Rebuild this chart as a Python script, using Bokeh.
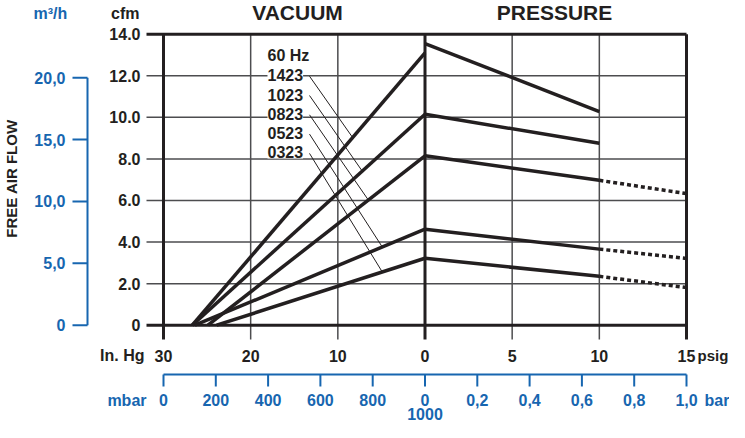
from bokeh.plotting import figure
from bokeh.models import Range1d, LabelSet, ColumnDataSource
from bokeh.embed import file_html
from bokeh.resources import INLINE
from bokeh.core.properties import value

# ---------------- data ----------------
models = ["1423", "1023", "0823", "0523", "0323"]
vac_zero_flow_inhg = [26.7, 26.7, 24.9, 26.4, 23.9]   # vacuum (inHg) where flow reaches 0
vac_flow_at_0 = [13.1, 10.15, 8.15, 4.62, 3.22]       # cfm at 0 inHg
press_psig = [0, 10, 15]
press_flow_0 = [13.55, 10.15, 8.15, 4.62, 3.22]       # cfm at 0 psig
press_flow_10 = [10.28, 8.75, 6.97, 3.66, 2.35]       # cfm at 10 psig
press_flow_15 = [None, None, 6.33, 3.21, 1.81]        # cfm at 15 psig (dotted)
leader_inhg = [8.3, 7.2, 6.5, 4.9, 4.9]               # where leader lines meet the curves

inhg_ticks = [30, 20, 10, 0]
psig_ticks = [0, 5, 10, 15]
cfm_ticks = [0, 2, 4, 6, 8, 10, 12, 14]
m3h_ticks = [0, 5, 10, 15, 20]
mbar_ticks = [0, 200, 400, 600, 800, 1000]
bar_ticks = [0, 0.2, 0.4, 0.6, 0.8, 1.0]
M3H_PER_CFM = 1.68

# combined x scale: vacuum side x = -inHg/2, pressure side x = psig
def vx(inhg):
    return -inhg / 2.0

def mbar_x(m):
    return -15 + m * 0.015

def bar_x(b):
    return b * 15.0

def m3h_y(v):
    return v / M3H_PER_CFM

# ---------------- layout (reference pixel positions -> data) ----------------
PX = (692 - 169) / 30.0
PY = (332.7 - 41.7) / 14.0

def fx(px):
    return -15 + (px - 169) / PX

def fy(py):
    return (332.7 - py) / PY

BLACK = "#231f20"
GRID = "#4d4d4f"
BLUE = "#1766b0"
FONT = "Liberation Sans"

p = figure(width=729, height=422, output_backend="svg", toolbar_location=None,
           x_range=Range1d(fx(6), fx(735)), y_range=Range1d(fy(430), fy(8)),
           x_axis_location=None, y_axis_location=None,
           min_border=0, outline_line_color=None)
p.xgrid.visible = False
p.ygrid.visible = False
p.background_fill_color = "white"
p.border_fill_color = "white"

def txt(x, y, t, align="center", color=BLACK, size="16px", angle=0.0):
    p.text(x=x, y=y, text=t, text_align=align, text_baseline="middle", angle=angle,
           text_font=value(FONT), text_font_style="bold", text_font_size=size,
           text_color=color)

X_LEFT = fx(152)      # left end of horizontal grid/tick lines
Y_BOT = fy(347)       # bottom end of vertical grid/tick lines
x_right = psig_ticks[-1]
y_top = cfm_ticks[-1]

# ---- thin grid lines ----
hy = cfm_ticks[1:-1]
p.segment(x0=[X_LEFT] * len(hy), y0=hy, x1=[x_right] * len(hy), y1=hy,
          line_color=GRID, line_width=1.5)
vxs = [vx(v) for v in inhg_ticks[1:-1]] + psig_ticks[1:-1]
p.segment(x0=vxs, y0=[Y_BOT] * len(vxs), x1=vxs, y1=[y_top] * len(vxs),
          line_color=GRID, line_width=1.5)

# ---- thick frame lines ----
p.segment(x0=[X_LEFT] * 2, y0=[cfm_ticks[0], y_top], x1=[x_right] * 2,
          y1=[cfm_ticks[0], y_top], line_color=BLACK, line_width=3)
thick_x = [vx(inhg_ticks[0]), vx(inhg_ticks[-1]), x_right]
p.segment(x0=thick_x, y0=[Y_BOT] * 3, x1=thick_x, y1=[y_top] * 3,
          line_color=BLACK, line_width=3)

# ---- cfm tick labels ----
txt([fx(146)] * len(cfm_ticks), cfm_ticks,
    ["0" if v == 0 else f"{v:.1f}" for v in cfm_ticks], align="right")

# ---- x tick labels ----
XL_Y = fy(363)
xl = [vx(v) for v in inhg_ticks] + psig_ticks[1:]
xt = [str(v) for v in inhg_ticks] + [str(v) for v in psig_ticks[1:]]
txt(xl, [XL_Y] * len(xl), xt)

# ---- blue m3/h axis ----
m3y = [m3h_y(v) for v in m3h_ticks]
p.segment(x0=[fx(93)], y0=[m3y[0]], x1=[fx(93)], y1=[m3y[-1]], line_color=BLUE, line_width=2)
p.segment(x0=[fx(78)] * len(m3y), y0=m3y, x1=[fx(93)] * len(m3y), y1=m3y,
          line_color=BLUE, line_width=2)
txt([fx(71)] * len(m3y), m3y, ["0" if v == 0 else f"{v:.1f}".replace(".", ",") for v in m3h_ticks],
    align="right", color=BLUE)
txt([fx(17)], [fy(186)], ["FREE AIR FLOW"], size="15px", angle=1.5708)

# ---- blue mbar / bar axis (bottom) ----
BY, BT, BL1, BL2 = fy(382), fy(394), fy(407.5), fy(421.5)
bx = [mbar_x(m) for m in mbar_ticks] + [bar_x(b) for b in bar_ticks[1:]]
p.segment(x0=[bx[0]], y0=[BY], x1=[bx[-1]], y1=[BY], line_color=BLUE, line_width=2)
p.segment(x0=bx, y0=[BY] * len(bx), x1=bx, y1=[BT] * len(bx), line_color=BLUE, line_width=2)
bt = [str(m) for m in mbar_ticks[:-1]] + [f"{bar_ticks[0]:g}"] + \
     [f"{b:.1f}".replace(".", ",") for b in bar_ticks[1:]]
txt(bx, [BL1] * len(bx), bt, color=BLUE)
txt([mbar_x(mbar_ticks[-1])], [BL2], [str(mbar_ticks[-1])], color=BLUE)

# ---- curves ----
for i, m in enumerate(models):
    z = vac_zero_flow_inhg[i]
    p.line([vx(z), vx(0)], [0, vac_flow_at_0[i]], line_color=BLACK, line_width=3.5)
    p.line(press_psig[:2], [press_flow_0[i], press_flow_10[i]], line_color=BLACK, line_width=3.5)
    if press_flow_15[i] is not None:
        p.line(press_psig[1:], [press_flow_10[i], press_flow_15[i]], line_color=BLACK,
               line_width=3.5, line_dash="4 3")

# ---- model labels + leaders ----
lab_y0 = 82.7
lab_dy = 19.3
src = ColumnDataSource(dict(x=[fx(273)] * (len(models) + 1),
                            y=[fy(lab_y0 + (i - 1) * lab_dy) for i in range(len(models) + 1)],
                            t=["60 Hz"] + models))
p.add_layout(LabelSet(x="x", y="y", text="t", source=src, text_align="left",
                      text_baseline="middle", text_font=value(FONT),
                      text_font_style="bold", text_font_size="16px",
                      text_color=BLACK, background_fill_color="white"))

lx0, ly0, lx1, ly1 = [], [], [], []
for i in range(len(models)):
    z = vac_zero_flow_inhg[i]
    h = leader_inhg[i]
    lx0.append(fx(315))
    ly0.append(fy(lab_y0 + i * lab_dy + 1))
    lx1.append(vx(h))
    ly1.append(vac_flow_at_0[i] * (1 - h / z))
p.segment(x0=lx0, y0=ly0, x1=lx1, y1=ly1, line_color=BLACK, line_width=1)

# ---- titles and unit labels ----
txt([fx(303), fx(560)], [fy(19.5)] * 2, ["VACUUM", "PRESSURE"], size="21px")
txt([fx(145)], [fy(21)], ["cfm"], align="right")
txt([fx(39)], [fy(21)], ["m³/h"], align="left", color=BLUE)
txt([fx(150)], [XL_Y], ["In. Hg"], align="right")
txt([fx(703)], [XL_Y], ["psig"], align="left", size="15px")
txt([fx(152)], [BL1], ["mbar"], align="right", color=BLUE)
txt([fx(710)], [BL1], ["bar"], align="left", color=BLUE)

open("out.html", "w").write(file_html(p, INLINE))
